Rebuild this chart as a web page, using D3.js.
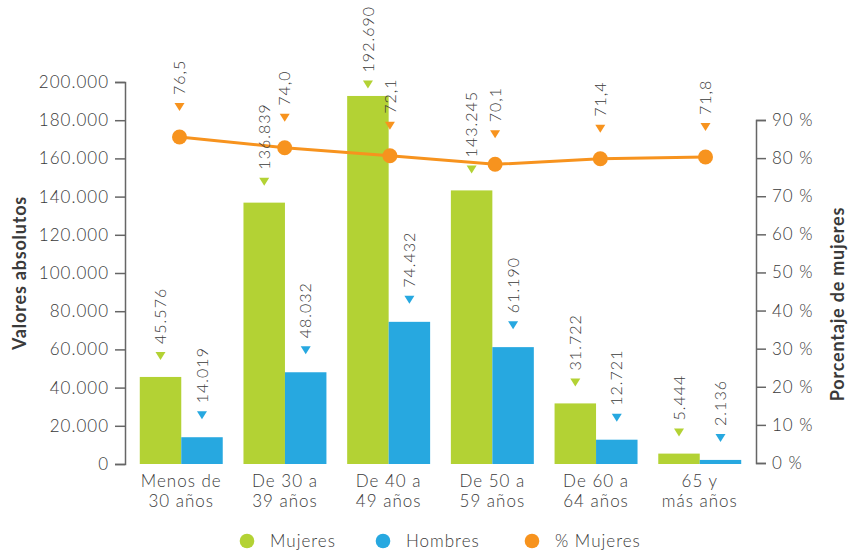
<!DOCTYPE html>
<html><head><meta charset="utf-8">
<script src="https://cdn.jsdelivr.net/npm/d3@7"></script>
<style>
body{margin:0;background:#fff;}
text{font-family:Lato,"Open Sans",sans-serif;fill:#3a3a3a;font-weight:300;letter-spacing:1px;}
</style></head>
<body><svg id="c" width="849" height="554"></svg>
<script>
const categories = [["Menos de","30 años"],["De 30 a","39 años"],["De 40 a","49 años"],["De 50 a","59 años"],["De 60 a","64 años"],["65 y","más años"]];
const mujeres = [45576,136839,192690,143245,31722,5444];
const hombres = [14019,48032,74432,61190,12721,2136];
const pctMujeres = [76.5,74.0,72.1,70.1,71.4,71.8];
const leftTicks = [0,20000,40000,60000,80000,100000,120000,140000,160000,180000,200000];
const rightTicks = [0,10,20,30,40,50,60,70,80,90];
const seriesNames = ["Mujeres","Hombres","% Mujeres"];
const colors = {Mujeres:"#b3d234", Hombres:"#27a8e0", Pct:"#f7931e"};

const loc = d3.formatLocale({decimal:",", thousands:".", grouping:[3], currency:["",""]});
const fmtInt = loc.format(",d");
const fmtPct = loc.format(".1f");

const svg = d3.select("#c");
const keys = categories.map((c,i)=>i);

const x = d3.scaleBand().domain(keys).range([125,756]).paddingInner(0.2).paddingOuter(0.1425);
const xLine = d3.scalePoint().domain(keys).range([179.5,705.5]);
const yL = d3.scaleLinear().domain([0,200000]).range([464,82]);
const yR = d3.scaleLinear().domain([0,90]).range([463,120]);
const yLine = d3.scaleLinear().domain([0,80.5]).range([463,120]);

// axes
const axL = svg.append("g").attr("transform","translate(125,0)")
  .call(d3.axisLeft(yL).tickValues(leftTicks).tickFormat(d=>fmtInt(d)).tickSize(10).tickPadding(6));
const axR = svg.append("g").attr("transform","translate(756,0)")
  .call(d3.axisRight(yR).tickValues(rightTicks).tickFormat(d=>d+" %").tickSize(10).tickPadding(6));
[axL,axR].forEach(a=>{
  a.selectAll("path,line").attr("stroke","#666").attr("stroke-width",1.5);
  a.selectAll("text").attr("font-size",17).attr("fill","#3a3a3a").attr("font-family","Lato");
});

svg.append("text").attr("transform","translate(26,273) rotate(-90)")
  .attr("text-anchor","middle").attr("font-size",18).style("font-weight",700).style("letter-spacing","0.8px").text("Valores absolutos");
svg.append("text").attr("transform","translate(844,304) rotate(-90)")
  .attr("text-anchor","middle").attr("font-size",18).style("font-weight",700).style("letter-spacing","0.8px").text("Porcentaje de mujeres");

// bars
const bw = x.bandwidth()/2;
svg.append("g").selectAll("rect.m").data(keys).join("rect")
  .attr("x",i=>x(i)).attr("width",bw).attr("y",i=>yL(mujeres[i])).attr("height",i=>yL(0)-yL(mujeres[i]))
  .attr("fill",colors.Mujeres);
svg.append("g").selectAll("rect.h").data(keys).join("rect")
  .attr("x",i=>x(i)+bw).attr("width",bw).attr("y",i=>yL(hombres[i])).attr("height",i=>yL(0)-yL(hombres[i]))
  .attr("fill",colors.Hombres);

// category labels
const cat = svg.append("g");
keys.forEach(i=>{
  const cx = x(i)+x.bandwidth()/2;
  const t = cat.append("text").attr("text-anchor","middle").attr("font-size",17).attr("x",cx).attr("y",487);
  t.append("tspan").attr("x",cx).text(categories[i][0]);
  t.append("tspan").attr("x",cx).attr("dy",20).text(categories[i][1]);
});

// line
svg.append("path").datum(keys)
  .attr("d",d3.line().x(i=>xLine(i)).y(i=>yLine(pctMujeres[i])))
  .attr("fill","none").attr("stroke",colors.Pct).attr("stroke-width",3);
svg.append("g").selectAll("circle").data(keys).join("circle")
  .attr("cx",i=>xLine(i)).attr("cy",i=>yLine(pctMujeres[i])).attr("r",7.5).attr("fill",colors.Pct);

// data labels
function label(cx, topY, txt, color, gap){
  const g = svg.append("g");
  const t = g.append("text").attr("font-size",16).attr("dy","0.35em").text(txt);
  const L = t.node().getComputedTextLength();
  let ty = topY - gap;
  if (ty - 13 - L < 5) ty = L + 13 + 5;
  g.append("path").attr("d","M-5,-4L5,-4L0,4Z").attr("fill",color).attr("transform",`translate(${cx},${ty})`);
  t.attr("transform",`translate(${cx},${ty-12}) rotate(-90)`);
}
keys.forEach(i=>{
  label(x(i)+bw/2, yL(mujeres[i]), fmtInt(mujeres[i]), colors.Mujeres, 21);
  label(x(i)+bw*1.5, yL(hombres[i]), fmtInt(hombres[i]), colors.Hombres, 22);
  label(xLine(i), yLine(pctMujeres[i]), fmtPct(pctMujeres[i]), colors.Pct, 30);
});

// legend
const leg = [{n:"Mujeres",c:colors.Mujeres,x:247},{n:"Hombres",c:colors.Hombres,x:383},{n:"% Mujeres",c:colors.Pct,x:532}];
const lg = svg.append("g");
leg.forEach(d=>{
  lg.append("circle").attr("cx",d.x).attr("cy",541).attr("r",7.3).attr("fill",d.c);
  lg.append("text").attr("x",d.x+23).attr("y",547).attr("font-size",17).text(d.n);
});
</script></body></html>
